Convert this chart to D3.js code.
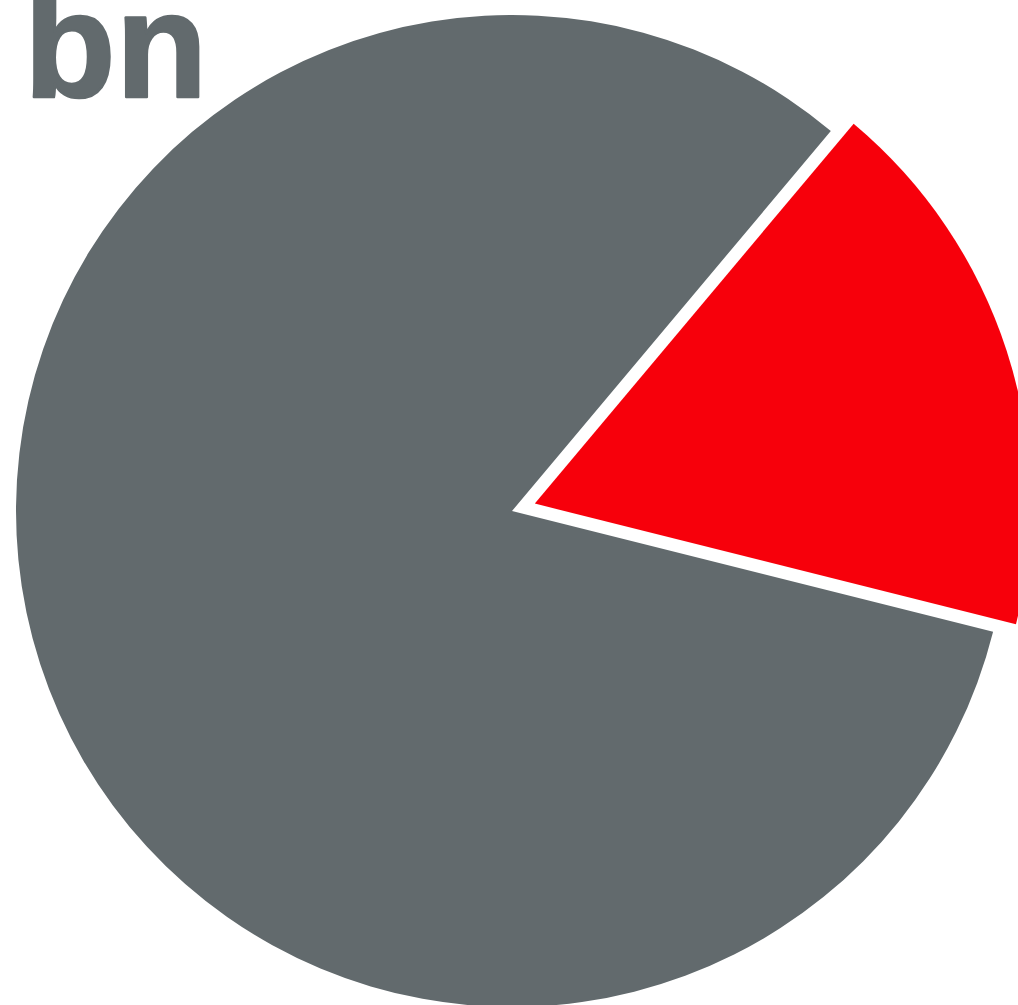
<!DOCTYPE html>
<html lang="en">
<head>
  <meta charset="utf-8">
  <title>pie</title>
  <script src="https://d3js.org/d3.v7.min.js"></script>
  <style>
    body { margin: 0; background: #fff; overflow: hidden; }
    #unit {
      font-family: "Liberation Sans", Arial, sans-serif; font-weight: bold; font-size: 150px;
      fill: #626a6d; stroke: #626a6d; stroke-width: 2.5px; stroke-linejoin: round;
    }
  </style>
</head>
<body>
  <script>
    // data
    const categories = ["share", "rest"];
    const values = [17.8, 82.2];
    const colors = ["#f7000b", "#626a6d"];
    const unitLabel = "bn";

    // config
    const width = 1018, height = 1005;
    const cx = 512, cy = 511, radius = 496;
    const startDeg = 40;
    const explode = 24;

    const svg = d3.select("body").append("svg")
      .attr("width", width).attr("height", height);

    const pie = d3.pie().sort(null)
      .startAngle(startDeg * Math.PI / 180)
      .endAngle((startDeg + 360) * Math.PI / 180);
    const arc = d3.arc().innerRadius(0).outerRadius(radius);

    const arcs = pie(values);
    const g = svg.append("g").attr("transform", `translate(${cx},${cy})`);

    g.selectAll("path").data(arcs).enter().append("path")
      .attr("d", arc)
      .attr("fill", (d, i) => colors[i])
      .attr("transform", (d, i) => {
        if (i !== 0) return null; // only the first slice is pulled out
        const mid = (d.startAngle + d.endAngle) / 2;
        return `translate(${explode * Math.sin(mid)},${-explode * Math.cos(mid)})`;
      });

    svg.append("text").attr("id", "unit")
      .attr("x", 24).attr("y", 97)
      .text(unitLabel);
  </script>
</body>
</html>
